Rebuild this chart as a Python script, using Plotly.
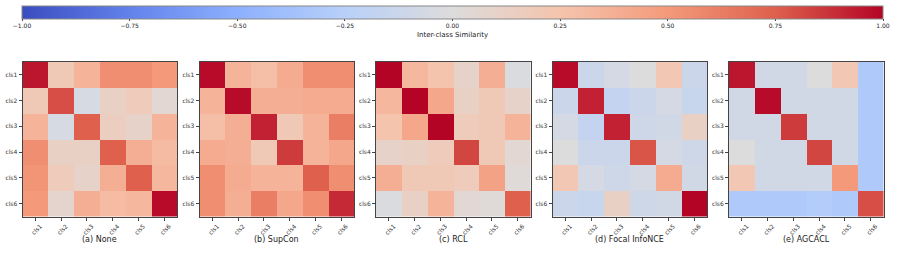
import plotly.graph_objects as go

classes = ["cls1", "cls2", "cls3", "cls4", "cls5", "cls6"]
titles = ["(a) None", "(b) SupCon", "(c) RCL", "(d) Focal InfoNCE", "(e) AGCACL"]

none_vals = [
    [0.95, 0.20, 0.35, 0.55, 0.55, 0.50],
    [0.20, 0.80, -0.05, 0.12, 0.18, 0.05],
    [0.35, -0.05, 0.75, 0.15, 0.10, 0.35],
    [0.55, 0.12, 0.12, 0.75, 0.38, 0.30],
    [0.52, 0.18, 0.10, 0.38, 0.75, 0.33],
    [0.50, 0.08, 0.38, 0.30, 0.32, 0.98],
]
supcon_vals = [
    [0.98, 0.35, 0.28, 0.40, 0.55, 0.55],
    [0.35, 0.98, 0.38, 0.38, 0.40, 0.40],
    [0.28, 0.38, 0.92, 0.20, 0.35, 0.62],
    [0.40, 0.38, 0.20, 0.85, 0.35, 0.42],
    [0.55, 0.40, 0.35, 0.35, 0.75, 0.55],
    [0.55, 0.38, 0.62, 0.42, 0.55, 0.90],
]
rcl_vals = [
    [1.00, 0.32, 0.25, 0.10, 0.38, -0.03],
    [0.32, 1.00, 0.42, 0.12, 0.20, 0.10],
    [0.25, 0.42, 1.00, 0.18, 0.20, 0.35],
    [0.10, 0.12, 0.18, 0.82, 0.20, 0.05],
    [0.38, 0.20, 0.20, 0.18, 0.45, 0.02],
    [-0.03, 0.12, 0.35, 0.05, 0.02, 0.75],
]
focal_vals = [
    [0.98, -0.12, -0.06, 0.00, 0.22, -0.12],
    [-0.12, 0.92, -0.17, -0.12, -0.06, -0.15],
    [-0.06, -0.17, 0.92, -0.10, -0.08, 0.12],
    [0.00, -0.12, -0.12, 0.78, -0.06, -0.10],
    [0.22, -0.06, -0.10, -0.06, 0.40, -0.08],
    [-0.12, -0.15, 0.12, -0.10, -0.08, 1.00],
]
agcacl_vals = [
    [0.95, -0.08, -0.08, 0.00, 0.22, -0.30],
    [-0.08, 0.98, -0.08, -0.08, -0.08, -0.30],
    [-0.08, -0.08, 0.85, -0.08, -0.08, -0.30],
    [0.00, -0.08, -0.08, 0.82, -0.08, -0.30],
    [0.22, -0.08, -0.08, -0.08, 0.50, -0.30],
    [-0.30, -0.30, -0.30, -0.28, -0.30, 0.80],
]
all_vals = [none_vals, supcon_vals, rcl_vals, focal_vals, agcacl_vals]
cbar_ticks = [-1.0, -0.75, -0.5, -0.25, 0.0, 0.25, 0.5, 0.75, 1.0]
cbar_labels = ["\u22121.00", "\u22120.75", "\u22120.50", "\u22120.25", "0.00",
               "0.25", "0.50", "0.75", "1.00"]

coolwarm = [
    [0.000, "rgb(58,76,192)"],
    [0.125, "rgb(98,130,234)"],
    [0.250, "rgb(141,176,254)"],
    [0.375, "rgb(184,208,249)"],
    [0.500, "rgb(221,220,220)"],
    [0.625, "rgb(245,196,173)"],
    [0.750, "rgb(244,154,123)"],
    [0.875, "rgb(222,96,77)"],
    [1.000, "rgb(180,4,38)"],
]

W, H = 897, 269
left_px = [22.5, 199.5, 376, 552.5, 729]
size_px = 154.5
top_px, bot_px = 62, 216.5

fig = go.Figure()
font = "DejaVu Sans"
for i, vals in enumerate(all_vals):
    n = "" if i == 0 else str(i + 1)
    fig.add_trace(go.Heatmap(
        z=vals, x=classes, y=classes, coloraxis="coloraxis",
        xaxis="x" + n, yaxis="y" + n,
        hovertemplate="%{y} / %{x}: %{z:.2f}<extra></extra>",
    ))
    xd = [left_px[i] / W, (left_px[i] + size_px) / W]
    yd = [1 - bot_px / H, 1 - top_px / H]
    axcommon = dict(showline=True, mirror=True, linecolor="#444", linewidth=1,
                    ticks="outside", ticklen=3, tickcolor="#444", tickwidth=0.8,
                    tickfont=dict(size=6, color="#333", family=font),
                    showgrid=False, zeroline=False)
    fig.layout["xaxis" + n] = dict(domain=xd, anchor="y" + n, tickangle=-45,
                                    ticklabelshift=5, **axcommon)
    fig.layout["yaxis" + n] = dict(domain=yd, anchor="x" + n, autorange="reversed",
                                    **axcommon)
    fig.add_annotation(text=titles[i], xref="paper", yref="paper",
                       x=(left_px[i] + size_px / 2) / W, y=1 - 239 / H,
                       showarrow=False, font=dict(size=8, color="#222", family=font),
                       xanchor="center", yanchor="middle")

fig.update_layout(
    width=W, height=H, margin=dict(l=0, r=0, t=0, b=0),
    paper_bgcolor="white", plot_bgcolor="white",
    font=dict(family=font, color="#222"),
    coloraxis=dict(
        colorscale=coolwarm, cmin=-1, cmax=1,
        colorbar=dict(
            orientation="h", x=452.5 / W, xanchor="center", y=1 - 6 / H, yanchor="top",
            len=861 / W, lenmode="fraction", thickness=13, thicknessmode="pixels",
            outlinewidth=1, outlinecolor="#888",
            tickvals=cbar_ticks, ticktext=cbar_labels, ticks="outside", ticklen=2,
            tickcolor="#444",
            tickfont=dict(size=6, color="#222", family=font),
            title=dict(text="Inter-class Similarity", side="bottom",
                       font=dict(size=7, color="#222", family=font)),
            xpad=0, ypad=0,
        ),
    ),
)

fig.write_html("out.html", config={"displayModeBar": False},
               post_script="document.body.style.margin='0';document.body.style.overflow='hidden';")
